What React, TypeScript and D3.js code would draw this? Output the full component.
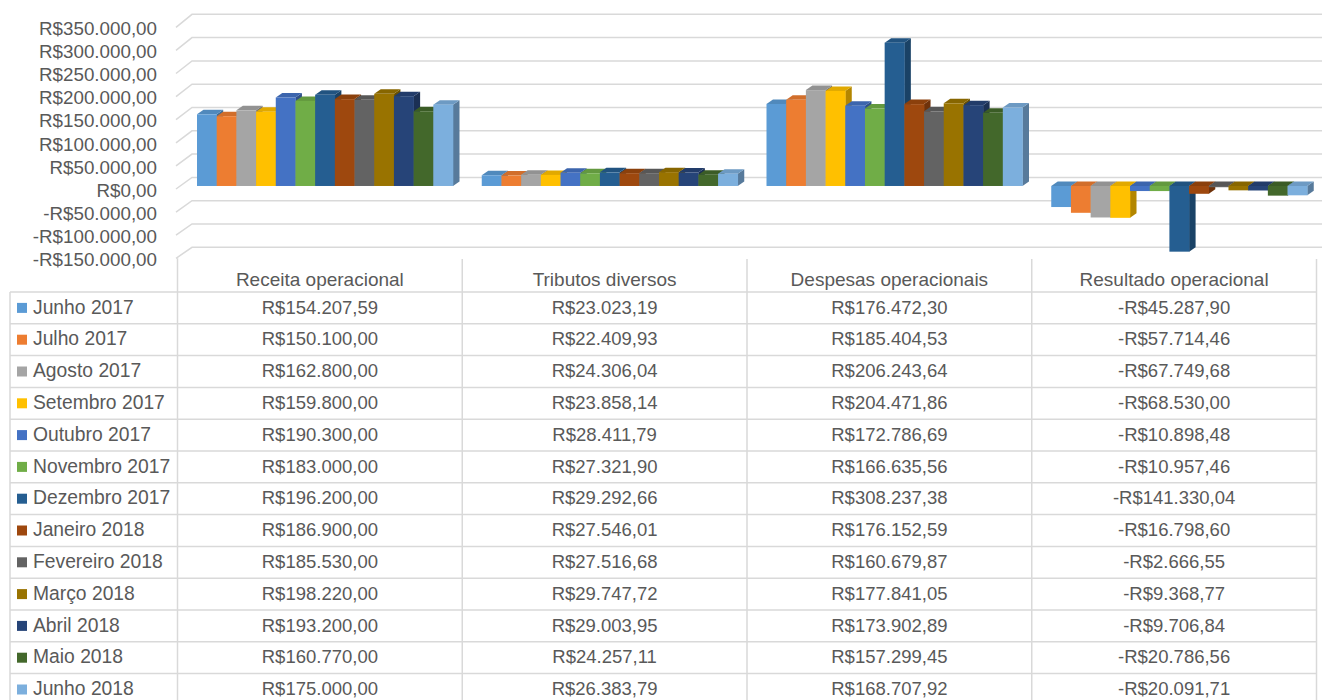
import React from 'react';
import * as d3 from 'd3';

const categories = ['Receita operacional', 'Tributos diversos', 'Despesas operacionais', 'Resultado operacional'];

const months = [
  'Junho 2017', 'Julho 2017', 'Agosto 2017', 'Setembro 2017', 'Outubro 2017', 'Novembro 2017',
  'Dezembro 2017', 'Janeiro 2018', 'Fevereiro 2018', 'Março 2018', 'Abril 2018', 'Maio 2018', 'Junho 2018'
];

const receita = [154207.59, 150100.0, 162800.0, 159800.0, 190300.0, 183000.0, 196200.0, 186900.0, 185530.0, 198220.0, 193200.0, 160770.0, 175000.0];
const tributos = [23023.19, 22409.93, 24306.04, 23858.14, 28411.79, 27321.9, 29292.66, 27546.01, 27516.68, 29747.72, 29003.95, 24257.11, 26383.79];
const despesas = [176472.3, 185404.53, 206243.64, 204471.86, 172786.69, 166635.56, 308237.38, 176152.59, 160679.87, 177841.05, 173902.89, 157299.45, 168707.92];
const resultado = [-45287.9, -57714.46, -67749.68, -68530.0, -10898.48, -10957.46, -141330.04, -16798.6, -2666.55, -9368.77, -9706.84, -20786.56, -20091.71];

const yTicks = [350000, 300000, 250000, 200000, 150000, 100000, 50000, 0, -50000, -100000, -150000];

const colors = [
  '#5B9BD5', '#ED7D31', '#A5A5A5', '#FFC000', '#4472C4', '#70AD47', '#255E91',
  '#9E480E', '#636363', '#997300', '#264478', '#43682B', '#7CAFDD'
];

const W = 1322;
const H = 700;
const font = "'Liberation Sans', Arial, sans-serif";
const textColor = '#595959';
const lineColor = '#d9d9d9';

const brl = d3.formatLocale({
  decimal: ',',
  thousands: '.',
  grouping: [3],
  currency: ['R$', ''],
  minus: '-'
} as any).format('$,.2f');

export default function App() {
  const seriesByCat = [receita, tributos, despesas, resultado];

  // front edge of the side wall (labels) and back wall (gridlines)
  const yFront = d3.scaleLinear().domain([350000, -150000]).range([27.3, 258.3]);
  const yBack = d3.scaleLinear().domain([350000, -150000]).range([14.3, 247.3]);
  // bars sit a little behind the front edge
  const yBar = d3.scaleLinear().domain([350000, -150000]).range([23.3, 255.7]);

  const x0 = d3.scaleBand<string>().domain(categories).range([177.5, 1316.5]);
  const x1 = d3.scaleBand<string>().domain(months).range([19.5, 275.5]);

  const wallFront = 176;
  const wallBack = 192;
  const dx = 6.5;
  const dy = -4.5;

  // table
  const tableLeft = 10;
  const tableTop = 292;
  const rowH = 31.8;
  const colEdges = [x0.range()[0], ...categories.map(c => (x0(c) as number) + x0.bandwidth())];

  const bars: React.ReactNode[] = [];
  categories.forEach((cat, ci) => {
    months.forEach((m, si) => {
      const v = seriesByCat[ci][si];
      const x = (x0(cat) as number) + (x1(m) as number);
      const w = x1.bandwidth();
      const y0 = yBar(0);
      const yv = yBar(v);
      const yt = Math.min(y0, yv);
      const yb = Math.max(y0, yv);
      const base = d3.color(colors[si]) as d3.RGBColor;
      const top = base.darker(0.35).formatHex();
      const side = base.darker(1.0).formatHex();
      bars.push(
        <g key={`${ci}-${si}`}>
          <polygon
            points={`${x + w},${yt} ${x + w + dx},${yt + dy} ${x + w + dx},${yb + dy} ${x + w},${yb}`}
            fill={side}
          />
          <polygon
            points={`${x},${yt} ${x + dx},${yt + dy} ${x + w + dx},${yt + dy} ${x + w},${yt}`}
            fill={top}
          />
          <rect x={x} y={yt} width={w + 0.3} height={yb - yt} fill={colors[si]} />
        </g>
      );
    });
  });

  return (
    <div>
      <style>{`body{margin:0}`}</style>
      <svg width={W} height={H} style={{ display: 'block', background: '#fff' }} fontFamily={font}>
        {/* walls and gridlines */}
        <g stroke={lineColor} strokeWidth={1.5} fill="none">
          {yTicks.map(t => (
            <path key={t} d={`M${wallFront},${yFront(t)} L${wallBack},${yBack(t)} L${W},${yBack(t)}`} />
          ))}
        </g>

        {/* y-axis labels */}
        <g fill={textColor} fontSize={18.8} textAnchor="end">
          {yTicks.map(t => (
            <text key={t} x={157} y={yFront(t) + 7.7}>{brl(t)}</text>
          ))}
        </g>

        {bars}

        {/* data table */}
        <g stroke={lineColor} strokeWidth={1.5}>
          {months.map((m, i) => (
            <line key={m} x1={tableLeft} x2={colEdges[colEdges.length - 1]} y1={tableTop + i * rowH} y2={tableTop + i * rowH} />
          ))}
          <line x1={tableLeft} x2={tableLeft} y1={tableTop} y2={H} />
          {colEdges.map((xe, i) => (
            <line key={i} x1={xe} x2={xe} y1={i === 0 ? yFront(-150000) : 259} y2={H} />
          ))}
        </g>

        <g fill={textColor} fontSize={19} textAnchor="middle">
          {categories.map(c => (
            <text key={c} x={(x0(c) as number) + x0.bandwidth() / 2} y={286}>{c}</text>
          ))}
        </g>

        {months.map((m, si) => {
          const ry = tableTop + si * rowH;
          return (
            <g key={m} fill={textColor} fontSize={18.5}>
              <rect x={17} y={ry + rowH / 2 - 5} width={10} height={10} fill={colors[si]} />
              <text x={33} y={ry + 21.5} fontSize={19.3}>{m}</text>
              {categories.map((c, ci) => (
                <text key={c} x={(x0(c) as number) + x0.bandwidth() / 2} y={ry + 21.5} textAnchor="middle">
                  {brl(seriesByCat[ci][si])}
                </text>
              ))}
            </g>
          );
        })}
      </svg>
    </div>
  );
}
